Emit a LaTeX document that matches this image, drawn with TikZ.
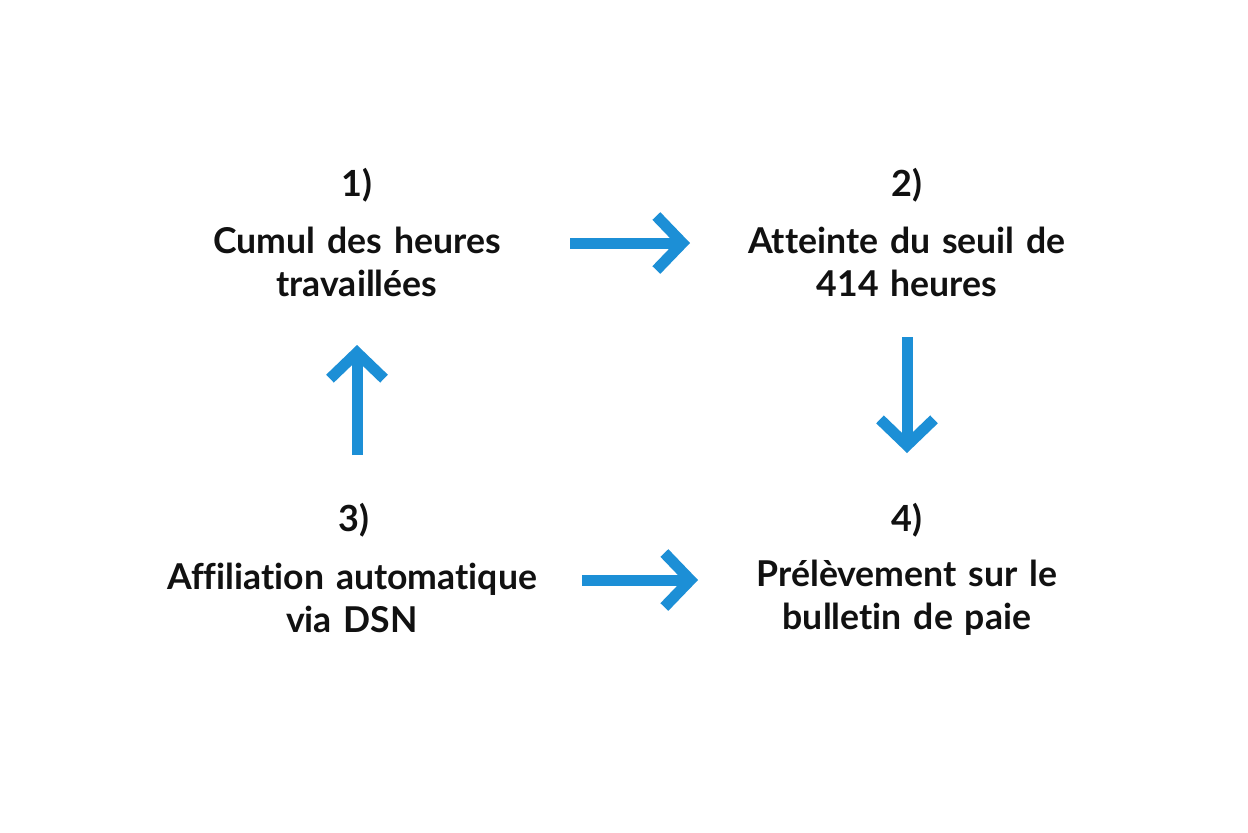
\documentclass[tikz,border=0pt]{standalone}
\usepackage{fontspec}
\setmainfont{Lato}[Ligatures=CommonOff]
\usepackage{tikz}
\usepackage{xcolor}
\usetikzlibrary{positioning, arrows.meta}

\definecolor{flowblue}{HTML}{1C8FD6}
\definecolor{inkblack}{HTML}{111111}

\begin{document}
\begin{tikzpicture}[
            x=0.5pt, y=-0.5pt,
            num/.style={inner sep=0pt, text=inkblack, font=\fontsize{18}{22}\selectfont\bfseries},
            stepbox/.style={inner sep=0pt, align=center, text width=200pt, text=inkblack,
                font=\fontsize{17.8}{21.5}\selectfont\bfseries},
            flow/.style={draw=flowblue, line width=5.5pt,
                -{Straight Barb[sharp, length=13pt, width=27pt]}},
        ]
            \useasboundingbox[fill=white] (0,0) rectangle (1248,832);

            % steps
            \node[num] (num1) at (357,185) {1)};
            \node[stepbox] (body1) at (357,261.5) {Cumul des heures\\travaillées};
            \node[num] (num2) at (907,185) {2)};
            \node[stepbox] (body2) at (907,261.5) {Atteinte du seuil de\\414 heures};
            \node[num] (num3) at (354,520) {3)};
            \node[stepbox] (body3) at (352,597.5) {Affiliation automatique\\via DSN};
            \node[num] (num4) at (907,520) {4)};
            \node[stepbox] (body4) at (907,597.5) {Prélèvement sur le\\bulletin de paie};

            % arrows
            \draw[flow, shorten <=106.5pt, shorten >=108.5pt]
                ([yshift=9.25pt]body1.center) -- ([yshift=9.25pt]body2.center);
            \draw[flow, shorten <=37.75pt, shorten >=33.5pt]
                (body2.center) -- (body2.center |- num4.center);
            \draw[flow, shorten <=115pt, shorten >=104.5pt]
                ([yshift=8.75pt]body3.center) -- ([yshift=8.75pt]body4.center);
            \draw[flow, shorten <=32.5pt, shorten >=41.75pt]
                (body1.center |- num3.center) -- (body1.center);
        \end{tikzpicture}
\end{document}
